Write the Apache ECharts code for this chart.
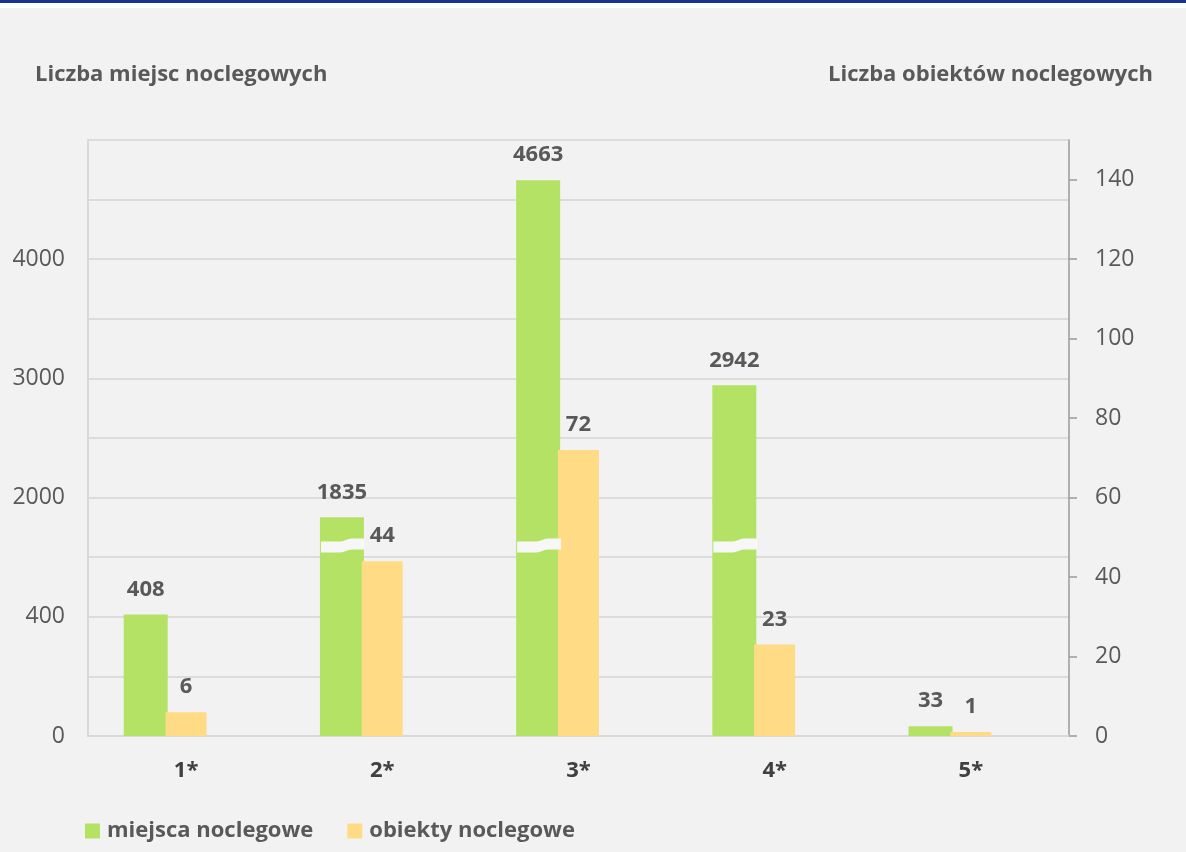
<!DOCTYPE html>
<html>
<head>
<meta charset="utf-8">
<script src="https://cdn.jsdelivr.net/npm/echarts@6/dist/echarts.min.js"></script>
<style>
  html, body { margin: 0; padding: 0; background: #f2f2f2; }
  #chart { width: 1186px; height: 852px; }
</style>
</head>
<body>
<div id="chart"></div>
<script>
const categories = ['1*', '2*', '3*', '4*', '5*']
const miejsca = [408, 1835, 4663, 2942, 33]
const obiekty = [6, 44, 72, 23, 1]
// left axis is broken: 0-400 at full scale, then 2000+ compressed
const leftTicks = [0, 400, 2000, 3000, 4000]
const rightTicks = [0, 20, 40, 60, 80, 100, 120, 140]

const FONT = 'Open Sans'
const GREEN = '#b4e264'
const YELLOW = '#ffdb86'

// broken scale for the left axis
function toAxis(v) {
  if (v <= 600) return v
  return Math.max(600, 800 + (v - 2000) * 0.4)
}
const BREAK_AT = 636

const leftLabelAt = {}
leftTicks.forEach((t) => { leftLabelAt[toAxis(t)] = String(t) })

// bar layout: green | yellow | empty spacer, so yellow sits on the category centre
const GREEN_W = 44
const YELLOW_W = 41
const GAP = -0.05
const total = GREEN_W * (1 + GAP) + YELLOW_W * (1 + GAP) + GREEN_W
const GREEN_OFFSET = -total / 2 + GREEN_W / 2

const breakData = miejsca
  .map((v, i) => (toAxis(v) > BREAK_AT + 15 ? [i, BREAK_AT] : null))
  .filter(Boolean)

const chart = echarts.init(document.getElementById('chart'))

const valueLabel = {
  show: true,
  position: 'top',
  distance: 14,
  fontFamily: FONT,
  fontSize: 22,
  fontWeight: 'bold',
  color: '#595959',
}

const titleStyle = { fontFamily: FONT, fontSize: 22, fontWeight: 'bold', color: '#595959' }

chart.setOption({
  animation: false,
  backgroundColor: '#f2f2f2',
  textStyle: { fontFamily: FONT },
  graphic: [
    { type: 'rect', shape: { x: 0, y: 0, width: 1186, height: 8 }, style: { fill: '#ffffff' } },
    { type: 'rect', shape: { x: 0, y: 0, width: 1186, height: 3 }, style: { fill: '#17358a' } },
  ],
  title: [
    { text: 'Liczba miejsc noclegowych', left: 35, top: 64, padding: 0, textStyle: titleStyle },
    { text: 'Liczba obiektów noclegowych', right: 33, top: 64, padding: 0, textStyle: titleStyle },
  ],
  legend: {
    data: ['miejsca noclegowe', 'obiekty noclegowe'],
    left: 85,
    top: 820,
    padding: 0,
    icon: 'rect',
    itemWidth: 15,
    itemHeight: 15,
    itemGap: 34,
    textStyle: { fontFamily: FONT, fontSize: 22, fontWeight: 'bold', color: '#595959', padding: [0, 0, 0, 2] },
  },
  grid: { left: 88, right: 117, top: 140, bottom: 116, outerBoundsMode: 'none' },
  xAxis: {
    type: 'category',
    data: categories,
    axisLine: { lineStyle: { color: '#d9d9d9', width: 2 } },
    axisTick: { show: false },
    axisLabel: { fontFamily: FONT, fontSize: 22, fontWeight: 'bold', color: '#404040', margin: 24 },
  },
  yAxis: [
    {
      type: 'value',
      min: 0,
      max: 2000,
      interval: 200,
      axisLine: { show: true, lineStyle: { color: '#d9d9d9', width: 2 } },
      axisTick: { show: false },
      axisLabel: {
        customValues: leftTicks.map(toAxis),
        formatter: (v) => leftLabelAt[v] ?? '',
        fontFamily: FONT,
        fontSize: 23,
        color: '#595959',
        margin: 23,
      },
      splitLine: { lineStyle: { color: '#d4d4d4', width: 1.5 } },
    },
    {
      type: 'value',
      position: 'right',
      min: 0,
      max: 150,
      axisLine: { show: true, lineStyle: { color: '#9a9a9a', width: 1.5 } },
      axisTick: { show: true, length: 8, customValues: rightTicks, lineStyle: { color: '#9a9a9a', width: 1.5 } },
      axisLabel: { customValues: rightTicks, fontFamily: FONT, fontSize: 23, color: '#595959', margin: 26 },
      splitLine: { show: false },
    },
  ],
  series: [
    {
      name: 'miejsca noclegowe',
      type: 'bar',
      yAxisIndex: 0,
      data: miejsca.map(toAxis),
      barWidth: GREEN_W,
      barGap: '-5%',
      itemStyle: { color: GREEN },
      label: { ...valueLabel, formatter: (p) => String(miejsca[p.dataIndex]) },
      z: 2,
    },
    {
      name: 'obiekty noclegowe',
      type: 'bar',
      yAxisIndex: 1,
      data: obiekty,
      barWidth: YELLOW_W,
      barGap: '-5%',
      itemStyle: { color: YELLOW },
      label: valueLabel,
      z: 2,
    },
    {
      name: 'spacer',
      type: 'bar',
      yAxisIndex: 1,
      data: [],
      barWidth: GREEN_W,
      barGap: '-5%',
    },
    {
      name: 'break',
      type: 'custom',
      yAxisIndex: 0,
      data: breakData,
      z: 5,
      silent: true,
      renderItem: (params, api) => {
        const c = api.coord([api.value(0), api.value(1)])
        const x0 = c[0] + GREEN_OFFSET - GREEN_W / 2 + 1
        const x1 = x0 + GREEN_W
        const xm = (x0 + x1) / 2 + 3
        const y = c[1]
        const d = [
          `M${x0} ${y - 5}`,
          `L${xm - 6} ${y - 5}`,
          `C${xm - 1} ${y - 5} ${xm + 1} ${y - 8} ${xm + 6} ${y - 8}`,
          `L${x1} ${y - 8}`,
          `L${x1} ${y + 3}`,
          `L${xm + 6} ${y + 3}`,
          `C${xm + 1} ${y + 3} ${xm - 1} ${y + 6} ${xm - 6} ${y + 6}`,
          `L${x0} ${y + 6}`,
          'Z',
        ].join(' ')
        return { type: 'path', shape: { pathData: d }, style: { fill: '#f7f7f7' } }
      },
    },
  ],
})
</script>
</body>
</html>
